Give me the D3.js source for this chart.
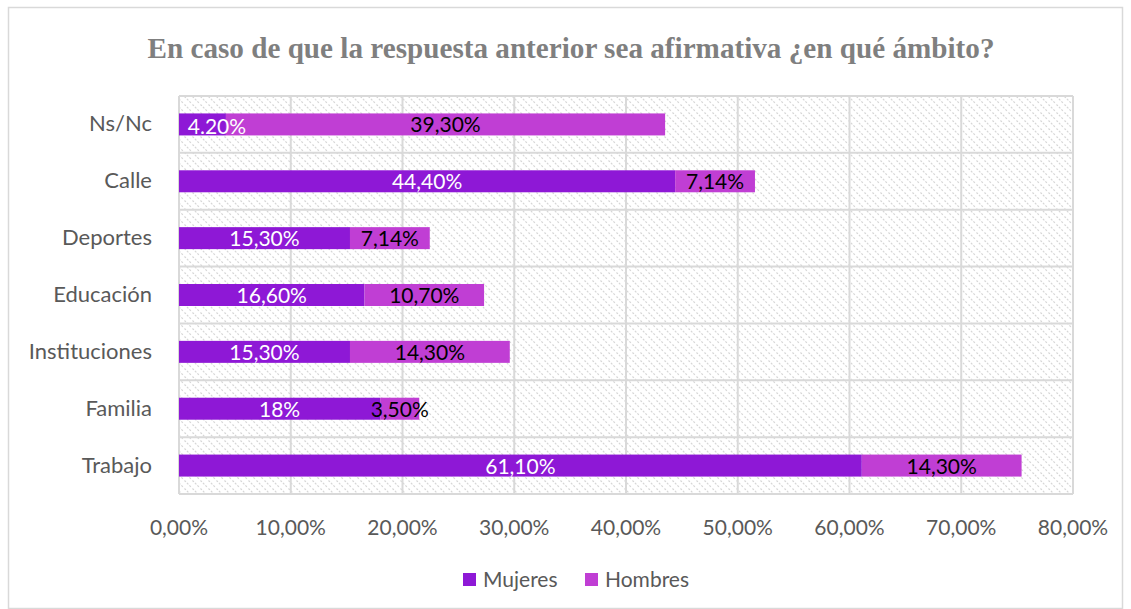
<!DOCTYPE html>
<html>
<head>
<meta charset="utf-8">
<script src="https://cdn.jsdelivr.net/npm/d3@7"></script>
<style>
  html, body { margin: 0; padding: 0; background: #fff; }
  svg { display: block; }
</style>
</head>
<body>
<svg id="chart" width="1131" height="609"></svg>
<script>
// Categories, top to bottom
const categories = ["Ns/Nc", "Calle", "Deportes", "Educación", "Instituciones", "Familia", "Trabajo"];
// Percentages per group
const mujeres = [4.2, 44.4, 15.3, 16.6, 15.3, 18, 61.1];
const hombres = [39.3, 7.14, 7.14, 10.7, 14.3, 3.5, 14.3];
// Label text shown on each segment
const mujeresLabels = ["4.20%", "44,40%", "15,30%", "16,60%", "15,30%", "18%", "61,10%"];
const hombresLabels = ["39,30%", "7,14%", "7,14%", "10,70%", "14,30%", "3,50%", "14,30%"];
const xTicks = [0, 10, 20, 30, 40, 50, 60, 70, 80];
const seriesNames = ["Mujeres", "Hombres"];
const colors = ["#8e18d6", "#c03ed4"];

(function () {
  const svg = d3.select("#chart");
  const W = 1131, H = 609;
  const plotLeft = 179, plotRight = 1073, plotTop = 96, plotBottom = 494;

  // Outer chart border
  svg.append("rect").attr("x", 8.5).attr("y", 7.5).attr("width", W - 17).attr("height", H - 8)
    .attr("fill", "#fff").attr("stroke", "#d9d9d9").attr("stroke-width", 1.5);

  // Hatch pattern for plot background
  const defs = svg.append("defs");
  const pat = defs.append("pattern").attr("id", "hatch").attr("patternUnits", "userSpaceOnUse")
    .attr("width", 8).attr("height", 8);
  pat.append("rect").attr("width", 8).attr("height", 8).attr("fill", "#fff");
  pat.append("path").attr("d", "M-2,-2 L10,10 M-2,6 L2,10 M6,-2 L10,2")
    .attr("stroke", "#d6d6d6").attr("stroke-width", 1.2).attr("stroke-dasharray", "2,1.5");

  const x = d3.scaleLinear().domain([0, 80]).range([plotLeft, plotRight]);
  const y = d3.scaleBand().domain(categories).range([plotTop, plotBottom]).paddingInner(0).paddingOuter(0);
  const barH = 22;

  // Plot background
  svg.append("rect").attr("x", plotLeft).attr("y", plotTop)
    .attr("width", plotRight - plotLeft).attr("height", plotBottom - plotTop)
    .attr("fill", "url(#hatch)");

  // Vertical gridlines
  svg.append("g").selectAll("line").data(xTicks).join("line")
    .attr("x1", d => x(d)).attr("x2", d => x(d)).attr("y1", plotTop).attr("y2", plotBottom)
    .attr("stroke", "#d9d9d9").attr("stroke-width", 2);

  // Horizontal gridlines at category boundaries
  const hLines = categories.map(c => y(c)).concat([plotBottom]);
  svg.append("g").selectAll("line").data(hLines).join("line")
    .attr("x1", plotLeft).attr("x2", plotRight).attr("y1", d => d).attr("y2", d => d)
    .attr("stroke", "#d9d9d9").attr("stroke-width", 2);

  // Stacked bars
  const rows = categories.map((c, i) => ({ c, m: mujeres[i], h: hombres[i], ml: mujeresLabels[i], hl: hombresLabels[i] }));
  const barY = d => y(d.c) + y.bandwidth() / 2 - barH / 2;

  svg.append("g").selectAll("rect").data(rows).join("rect")
    .attr("x", x(0)).attr("y", barY)
    .attr("width", d => x(d.m) - x(0)).attr("height", barH).attr("fill", colors[0]);
  svg.append("g").selectAll("rect").data(rows).join("rect")
    .attr("x", d => x(d.m)).attr("y", barY)
    .attr("width", d => x(d.m + d.h) - x(d.m)).attr("height", barH).attr("fill", colors[1]);

  const font = "Lato, 'Open Sans', sans-serif";
  const fs = "21px";

  // Segment labels
  svg.append("g").selectAll("text").data(rows).join("text")
    .attr("x", d => d.c === "Ns/Nc" ? x(d.m) - 9 : x(d.m / 2))
    .attr("y", d => y(d.c) + y.bandwidth() / 2 + 8 + (d.c === "Ns/Nc" ? 2 : 0))
    .attr("text-anchor", "middle").attr("fill", "#fff")
    .style("font-family", font).style("font-size", fs)
    .text(d => d.ml);
  svg.append("g").selectAll("text").data(rows).join("text")
    .attr("x", d => x(d.m + d.h / 2))
    .attr("y", d => y(d.c) + y.bandwidth() / 2 + 8)
    .attr("text-anchor", "middle").attr("fill", "#000")
    .style("font-family", font).style("font-size", fs)
    .text(d => d.hl);

  // Category axis labels
  svg.append("g").selectAll("text").data(categories).join("text")
    .attr("x", 152).attr("y", d => y(d) + y.bandwidth() / 2 + 7)
    .attr("text-anchor", "end").attr("fill", "#595959")
    .style("font-family", font).style("font-size", "22px")
    .text(d => d);

  // Value axis labels
  const fmt = d => d.toFixed(2).replace(".", ",") + "%";
  svg.append("g").selectAll("text").data(xTicks).join("text")
    .attr("x", d => x(d)).attr("y", 535)
    .attr("text-anchor", "middle").attr("fill", "#595959")
    .style("font-family", font).style("font-size", fs)
    .text(fmt);

  // Title
  svg.append("text").attr("x", 571).attr("y", 58).attr("text-anchor", "middle")
    .attr("fill", "#7f7f7f").style("font-family", "'Liberation Serif', 'Times New Roman', serif")
    .style("font-weight", "bold").style("font-size", "30px")
    .attr("textLength", 847).attr("lengthAdjust", "spacingAndGlyphs")
    .text("En caso de que la respuesta anterior sea afirmativa ¿en qué ámbito?");

  // Legend
  const legendX = [463, 585];
  const lg = svg.append("g").selectAll("g").data(seriesNames).join("g")
    .attr("transform", (d, i) => `translate(${legendX[i]},573)`);
  lg.append("rect").attr("width", 13).attr("height", 13).attr("fill", (d, i) => colors[i]);
  lg.append("text").attr("x", 20).attr("y", 14).attr("fill", "#595959")
    .style("font-family", font).style("font-size", fs).text(d => d);
})();
</script>
</body>
</html>
